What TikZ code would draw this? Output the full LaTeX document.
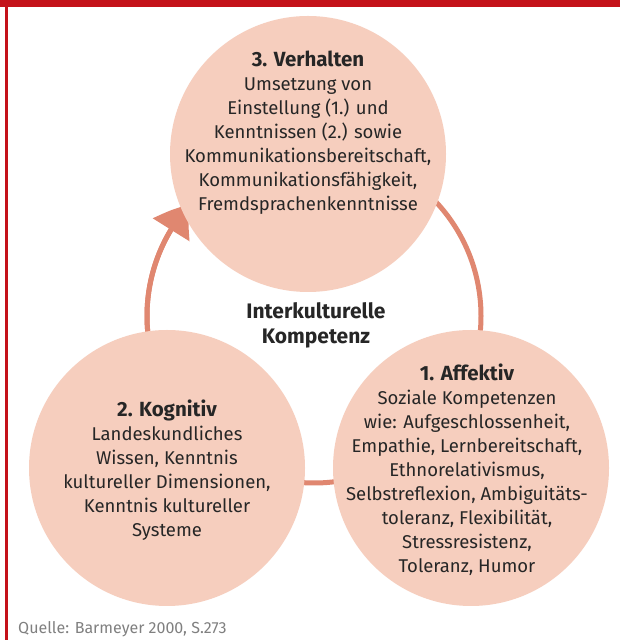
\documentclass[tikz,border=0pt]{standalone}
\usepackage{fontspec}
\setmainfont{Fira Sans}
\usetikzlibrary{arrows.meta,bending}
\definecolor{redbar}{RGB}{196,18,26}
\definecolor{ringc}{RGB}{224,135,112}
\definecolor{circfill}{RGB}{246,206,190}
\definecolor{txt}{RGB}{38,38,38}
\definecolor{srcgray}{RGB}{128,128,128}
\tikzset{
  bubble/.style={circle, fill=circfill, minimum size=276pt, inner sep=0pt},
  bubtext/.style={align=center, text=txt, inner sep=0pt, font=\fontsize{18.5}{24}\selectfont},
  ringline/.style={draw=ringc, line width=5pt}
}
\newcommand{\hd}[1]{{\fontsize{20.5}{24}\selectfont\bfseries #1}}
\begin{document}
\begin{tikzpicture}[x=1pt,y=1pt]
\useasboundingbox (0,0) rectangle (620,640);
\fill[white] (0,0) rectangle (620,640);
\fill[redbar] (0,633) rectangle (620,640);
\fill[redbar] (5,0) rectangle (7.5,640);
% ring
\coordinate (rc) at (314,324);
\draw[ringline] (rc) circle[radius=167];
\draw[ringline, -{Triangle[length=32pt,width=42pt,bend]}] ([shift={(200:167)}]rc) arc[start angle=200,end angle=138,radius=167];
% bubbles
\node[bubble] (verhalten) at (308,486) {};
\node[bubble] (kognitiv) at (167,172) {};
\node[bubble] (affektiv) at (471,172) {};
% texts
\node[bubtext] (t3) at (308,507) {\hd{3. Verhalten}\\Umsetzung von\\Einstellung (1.) und\\Kenntnissen (2.) sowie\\Kommunikationsbereitschaft,\\Kommunikationsfähigkeit,\\Fremdsprachenkenntnisse};
\node[bubtext] (t2) at (167,170) {\hd{2. Kognitiv}\\Landeskundliches\\Wissen, Kenntnis\\kultureller Dimensionen,\\Kenntnis kultureller\\Systeme};
\node[bubtext] (t1) at (467,170.5) {\hd{1. Affektiv}\\Soziale Kompetenzen\\wie: Aufgeschlossenheit,\\Empathie, Lernbereitschaft,\\Ethnorelativismus,\\Selbstreflexion, Ambiguitäts-\\toleranz, Flexibilität,\\Stressresistenz,\\Toleranz, Humor};
\node[align=center, text=txt, inner sep=0pt, font=\fontsize{21}{25}\selectfont\bfseries] (center) at (316,314.5) {Interkulturelle\\Kompetenz};
\node[anchor=base west, inner sep=0pt, text=srcgray, font=\fontsize{16}{18}\selectfont] (src) at (18,6) {Quelle: Barmeyer 2000, S.273};
\end{tikzpicture}
\end{document}
